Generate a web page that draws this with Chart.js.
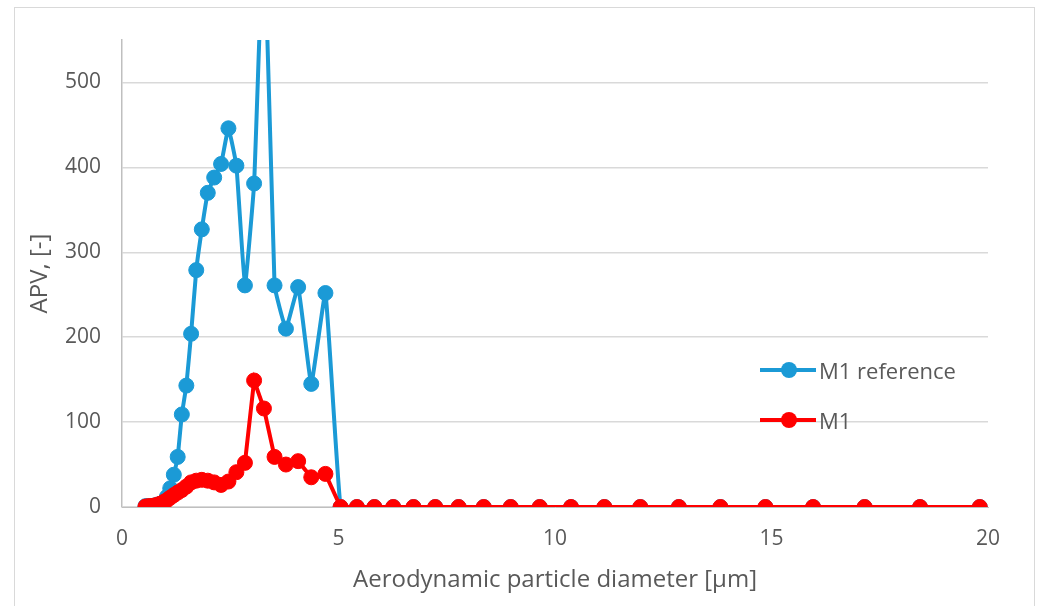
<!DOCTYPE html>
<html>
<head>
<meta charset="utf-8">
<script src="https://cdn.jsdelivr.net/npm/chart.js@4.4.0/dist/chart.umd.min.js"></script>
<style>
    html, body { margin: 0; padding: 0; background: #fff; overflow: hidden; }
    #wrap { position: relative; width: 1041px; height: 606px; }
    #frame { position: absolute; left: 14px; top: 7px; width: 1019px; height: 640px; border: 1px solid #d9d9d9; }
    canvas { position: absolute; left: 0; top: 0; }
    .leg { position: absolute; left: 760px; height: 30px; display: flex; align-items: center;
           font: 22px "Open Sans", sans-serif; color: #595959; }
    .leg .ln { position: relative; width: 56px; height: 4px; margin-right: 3px; }
    .leg .dot { position: absolute; left: 21px; top: -6px; width: 16px; height: 16px; border-radius: 50%; }
</style>
</head>
<body>
<div id="wrap">
    <div id="frame"></div>
    <canvas id="apvChart" width="1041" height="606"></canvas>
    <div class="leg" style="top:355px"><span class="ln" style="background:#1b9ad6"><span class="dot" style="background:#1b9ad6"></span></span>M1 reference</div>
    <div class="leg" style="top:405px"><span class="ln" style="background:#ff0000"><span class="dot" style="background:#ff0000"></span></span>M1</div>
</div>
<script>
// APS channel midpoints [µm]
const diameters = [
    0.542, 0.583, 0.626, 0.673, 0.723, 0.777, 0.835, 0.898, 0.965, 1.037,
    1.114, 1.197, 1.286, 1.382, 1.486, 1.596, 1.715, 1.843, 1.981, 2.129,
    2.288, 2.458, 2.642, 2.839, 3.051, 3.278, 3.523, 3.786, 4.068, 4.371,
    4.698, 5.048, 5.425, 5.829, 6.264, 6.732, 7.234, 7.774, 8.354, 8.977,
    9.647, 10.37, 11.14, 11.97, 12.86, 13.82, 14.86, 15.96, 17.15, 18.43, 19.81,
];

const m1Reference = [
    1, 1, 1, 1, 1.5, 2, 3, 4, 6, 12,
    22, 38, 59, 109, 143, 204, 279, 327, 370, 388,
    404, 446, 402, 261, 381, 690, 261, 210, 259, 145,
    252, 0, 0, 0, 0, 0, 0, 0, 0, 0,
    0, 0, 0, 0, 0, 0, 0, 0, 0, 0, 0,
];

const m1 = [
    0.5, 0.5, 1, 1, 1.5, 2, 3, 4, 6, 8,
    11, 14, 17, 20, 24, 29, 31, 32, 31, 29,
    26, 30, 41, 52, 149, 116, 59, 50, 54, 35,
    39, 0, 0, 0, 0, 0, 0, 0, 0, 0,
    0, 0, 0, 0, 0, 0, 0, 0, 0, 0, 0,
];

const xTicks = [0, 5, 10, 15, 20];
const yTicks = [0, 100, 200, 300, 400, 500];

const TEXT = '#595959';
const TICK_FONT = { family: '"Open Sans", sans-serif', size: 21 };
const TITLE_FONT = { family: '"Open Sans", sans-serif', size: 24 };

const toPoints = ys => diameters.map((x, i) => ({ x, y: ys[i] }));

function series(label, ys, color, tension, order) {
    return {
        label,
        data: toPoints(ys),
        borderColor: color,
        backgroundColor: color,
        pointBackgroundColor: color,
        pointBorderColor: color,
        pointBorderWidth: 1,
        pointRadius: 7.5,
        borderWidth: 4,
        tension,
        order,
    };
}

new Chart(document.getElementById('apvChart'), {
    type: 'line',
    data: {
        datasets: [
            series('M1 reference', m1Reference, '#1b9ad6', 0.1, 1),
            series('M1', m1, '#ff0000', 0, 0),
        ],
    },
    options: {
        responsive: false,
        animation: false,
        layout: { padding: { top: 40, right: 53, left: 0, bottom: 0 } },
        plugins: { legend: { display: false }, tooltip: { enabled: false } },
        scales: {
            x: {
                type: 'linear',
                min: 0,
                max: 20,
                afterBuildTicks: axis => { axis.ticks = xTicks.map(v => ({ value: v })); },
                afterFit: axis => { axis.height = 99; },
                grid: { display: false, drawTicks: false },
                border: { display: true, color: '#bfbfbf', width: 1 },
                ticks: { color: TEXT, font: TICK_FONT, padding: 19, maxRotation: 0 },
                title: {
                    display: true,
                    text: 'Aerodynamic particle diameter [µm]',
                    color: TEXT,
                    font: TITLE_FONT,
                    padding: { top: 0, bottom: 11 },
                },
            },
            y: {
                min: 0,
                max: 550,
                afterBuildTicks: axis => { axis.ticks = yTicks.map(v => ({ value: v })); },
                afterFit: axis => { axis.width = 122; },
                grid: { color: '#d9d9d9', lineWidth: 1.5, drawTicks: false },
                border: { display: true, color: '#bfbfbf', width: 1.5 },
                ticks: { color: TEXT, font: TICK_FONT, padding: 21 },
                title: {
                    display: true,
                    text: 'APV, [-]',
                    color: TEXT,
                    font: TITLE_FONT,
                    padding: { top: 26, bottom: 0 },
                },
            },
        },
    },
});
</script>
</body>
</html>
